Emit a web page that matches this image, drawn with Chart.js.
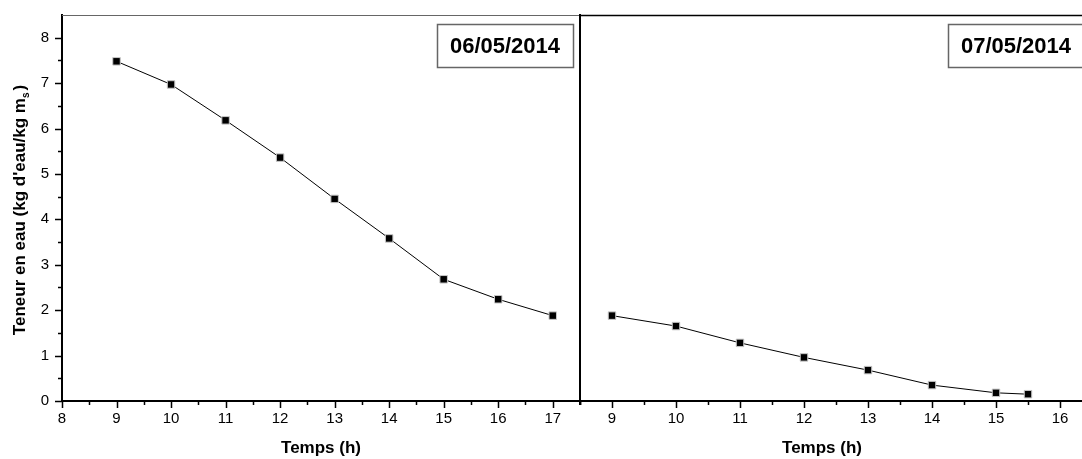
<!DOCTYPE html>
<html lang="fr">
<head>
<meta charset="UTF-8">
<title>Teneur en eau - séchage</title>
<script src="https://cdn.jsdelivr.net/npm/chart.js@4.4.1/dist/chart.umd.min.js"></script>
<style>
  html, body { margin: 0; padding: 0; background: #fff; overflow: hidden; }
  #wrap { position: relative; width: 1082px; height: 459px; overflow: hidden; }
  canvas { position: absolute; top: 0; }
</style>
</head>
<body>
<div id="wrap">
  <canvas id="day1" width="600" height="459" style="left:0"></canvas>
  <canvas id="day2" width="540" height="459" style="left:560px"></canvas>
</div>
<script>
  // heures de mesure et teneur en eau (kg d'eau / kg ms)
  const hours1 = [9, 10, 11, 12, 13, 14, 15, 16, 17];
  const water1 = [7.48, 6.97, 6.18, 5.36, 4.45, 3.58, 2.68, 2.24, 1.88];
  const hours2 = [9, 10, 11, 12, 13, 14, 15, 15.5];
  const water2 = [1.88, 1.65, 1.28, 0.96, 0.68, 0.35, 0.18, 0.15];
  const dates = ['06/05/2014', '07/05/2014'];

  const FONT = "'Liberation Sans', Arial, sans-serif";
  Chart.defaults.font.family = FONT;
  Chart.defaults.color = '#000';

  const intLabel = (v) => Number.isInteger(v) ? String(v) : '';

  // keep the plot area fixed, labels may overflow it
  const noPad = (s) => { s.paddingTop = 0; s.paddingBottom = 0; s.paddingLeft = 0; s.paddingRight = 0; };

  // frame, tick marks, titles and the date box
  const decor = {
    id: 'decor',
    afterDraw(chart, args, opts) {
      const { ctx, chartArea: a, scales } = chart;
      ctx.save();
      ctx.strokeStyle = '#000';
      ctx.lineWidth = 1.5;

      // x tick marks (major on integers)
      ctx.beginPath();
      scales.x.ticks.forEach((t) => {
        const p = Math.round(scales.x.getPixelForValue(t.value)) + 0.5;
        const len = Number.isInteger(t.value) ? 7 : 4;
        ctx.moveTo(p, a.bottom);
        ctx.lineTo(p, a.bottom + len);
      });
      ctx.stroke();

      if (opts.yTicks) {
        ctx.beginPath();
        scales.y.ticks.forEach((t) => {
          if (t.value >= scales.y.max) return;
          const p = Math.round(scales.y.getPixelForValue(t.value)) + 0.5;
          const len = Number.isInteger(t.value) ? 7 : 4;
          ctx.moveTo(a.left, p);
          ctx.lineTo(a.left - len, p);
        });
        ctx.stroke();
      }

      // top line
      ctx.strokeStyle = opts.topColor;
      ctx.lineWidth = opts.topWidth;
      ctx.beginPath();
      ctx.moveTo(a.left, a.top + 0.5);
      ctx.lineTo(a.right, a.top + 0.5);
      ctx.stroke();

      // divider on the right side
      if (opts.rightLine) {
        ctx.strokeStyle = '#000';
        ctx.lineWidth = 2;
        ctx.beginPath();
        ctx.moveTo(a.right, a.top);
        ctx.lineTo(a.right, a.bottom + 4);
        ctx.stroke();
      }

      // date box
      const bw = 136, bh = 43;
      const bx = opts.boxRight - bw, by = a.top + 9;
      ctx.strokeStyle = '#666';
      ctx.lineWidth = 1.5;
      ctx.strokeRect(bx + 0.5, by + 0.5, bw, bh);
      ctx.fillStyle = '#000';
      ctx.font = 'bold 22px ' + FONT;
      ctx.textAlign = 'center';
      ctx.textBaseline = 'middle';
      ctx.fillText(opts.date, bx + bw / 2, by + bh / 2 + 1);

      // x title
      ctx.font = 'bold 17px ' + FONT;
      ctx.fillText('Temps (h)', a.left + opts.titleDx, 448);

      // y title with subscript
      if (opts.yTitle) {
        ctx.translate(20, 210);
        ctx.rotate(-Math.PI / 2);
        const t1 = "Teneur en eau (kg d'eau/kg m", t2 = 's', t3 = ')';
        ctx.font = 'bold 17px ' + FONT;
        const w1 = ctx.measureText(t1).width, w3 = ctx.measureText(t3).width;
        ctx.font = 'bold 10px ' + FONT;
        const w2 = ctx.measureText(t2).width;
        let x = -(w1 + w2 + w3 + 2) / 2;
        ctx.textAlign = 'left';
        ctx.font = 'bold 17px ' + FONT;
        ctx.fillText(t1, x, 0);
        x += w1;
        ctx.font = 'bold 10px ' + FONT;
        ctx.fillText(t2, x, 6);
        x += w2 + 2;
        ctx.font = 'bold 17px ' + FONT;
        ctx.fillText(t3, x, 0);
      }
      ctx.restore();
    }
  };

  function series(xs, ys) {
    return {
      data: xs.map((x, i) => ({ x: x, y: ys[i] })),
      borderColor: '#000',
      borderWidth: 1,
      pointStyle: 'rect',
      pointRadius: 5.3,
      pointBackgroundColor: '#000',
      pointBorderColor: '#c8c8c8',
      pointBorderWidth: 1,
      tension: 0
    };
  }

  function xScale(min, max) {
    return {
      type: 'linear',
      min: min,
      max: max,
      afterFit: (s) => { s.height = 58; noPad(s); },
      grid: { display: false, drawTicks: false },
      border: { display: true, color: '#000', width: 2 },
      ticks: {
        stepSize: 0.5, autoSkip: false, maxRotation: 0, padding: 9,
        font: { size: 15 }, callback: intLabel
      }
    };
  }

  new Chart(document.getElementById('day1'), {
    type: 'line',
    data: { datasets: [series(hours1, water1)] },
    plugins: [decor],
    options: {
      responsive: false,
      animation: false,
      events: [],
      layout: { padding: { left: 0, right: 20, top: 15, bottom: 0 } },
      plugins: {
        legend: { display: false },
        tooltip: { enabled: false },
        decor: { date: dates[0], boxRight: 573, topColor: '#666', topWidth: 1,
                 rightLine: true, yTicks: true, yTitle: true, titleDx: 259 }
      },
      scales: {
        x: xScale(8, 17.5),
        y: {
          min: 0,
          max: 8.5,
          afterFit: (s) => { s.width = 62; noPad(s); },
          grid: { display: false, drawTicks: false },
          border: { display: true, color: '#000', width: 2 },
          ticks: { stepSize: 0.5, padding: 13, font: { size: 15 }, callback: intLabel }
        }
      }
    }
  });

  new Chart(document.getElementById('day2'), {
    type: 'line',
    data: { datasets: [series(hours2, water2)] },
    plugins: [decor],
    options: {
      responsive: false,
      animation: false,
      events: [],
      layout: { padding: { left: 0, right: 8, top: 15, bottom: 0 } },
      plugins: {
        legend: { display: false },
        tooltip: { enabled: false },
        decor: { date: dates[1], boxRight: 524, topColor: '#000', topWidth: 1.5,
                 rightLine: false, yTicks: false, yTitle: false, titleDx: 242 }
      },
      scales: {
        x: xScale(8.5, 16.5),
        y: {
          min: 0,
          max: 8.5,
          afterFit: (s) => { s.width = 20; noPad(s); },
          grid: { display: false, drawTicks: false },
          border: { display: true, color: '#000', width: 2 },
          ticks: { display: false }
        }
      }
    }
  });
</script>
</body>
</html>
